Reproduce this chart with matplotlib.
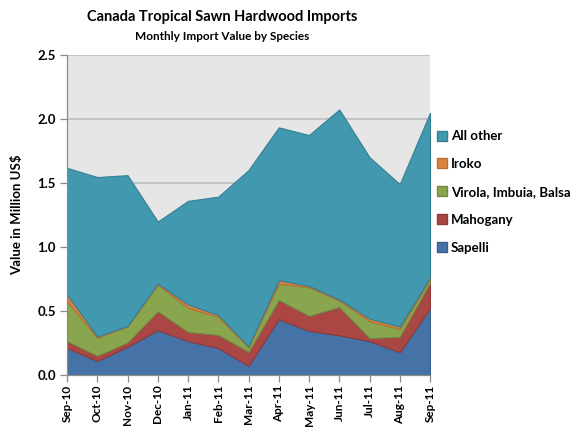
import matplotlib
matplotlib.use("Agg")
import matplotlib.pyplot as plt
from matplotlib.lines import Line2D
import numpy as np

months = ["Sep-10", "Oct-10", "Nov-10", "Dec-10", "Jan-11", "Feb-11", "Mar-11",
          "Apr-11", "May-11", "Jun-11", "Jul-11", "Aug-11", "Sep-11"]
sapelli = [0.21, 0.11, 0.22, 0.35, 0.265, 0.21, 0.072, 0.435, 0.345, 0.31, 0.265, 0.178, 0.52]
mahogany = [0.054, 0.04, 0.034, 0.147, 0.071, 0.103, 0.109, 0.15, 0.117, 0.22, 0.023, 0.12, 0.20]
virola = [0.313, 0.14, 0.126, 0.209, 0.189, 0.142, 0.034, 0.129, 0.223, 0.052, 0.132, 0.062, 0.03]
iroko = [0.052, 0.01, 0.003, 0.008, 0.026, 0.013, 0.008, 0.026, 0.01, 0.008, 0.02, 0.018, 0.01]
all_other = [0.988, 1.245, 1.177, 0.484, 0.808, 0.924, 1.377, 1.193, 1.178, 1.483, 1.26, 1.112, 1.287]
series_names = ["Sapelli", "Mahogany", "Virola, Imbuia, Balsa", "Iroko", "All other"]
yticks = [0.0, 0.5, 1.0, 1.5, 2.0, 2.5]

colors = ["#4572A7", "#AA4643", "#89A54E", "#DB843D", "#4198AF"]
edges = ["#3A5F8C", "#8E3A38", "#728A41", "#B86E33", "#367F92"]

plt.rcParams['font.family'] = ['Lato', 'DejaVu Sans']
fig = plt.figure(figsize=(5.74, 4.28), dpi=100)
ax = fig.add_axes([67/574, 53/428, 363/574, 320.3/428])
ax.set_facecolor("#E6E6E6")

x = np.arange(len(months))
data = [sapelli, mahogany, virola, iroko, all_other]
polys = ax.stackplot(x, *data, colors=colors, zorder=2)
for p, ec in zip(polys, edges):
    p.set_edgecolor(ec)
    p.set_linewidth(0.8)

ax.set_xlim(0, len(months) - 1)
ax.set_ylim(0, 2.5)
ax.set_yticks(yticks)
ax.set_yticklabels([f"{v:.1f}" for v in yticks], fontweight="bold", fontsize=9.5)
ax.set_xticks(x)
ax.set_xticklabels(months, rotation=90, fontweight="bold", fontsize=8.5)
ax.yaxis.grid(True, color="#BDBDBD", linewidth=1.2, zorder=1)
ax.set_axisbelow(True)
for s in ["top", "right"]:
    ax.spines[s].set_visible(False)
for s in ["left", "bottom"]:
    ax.spines[s].set_color("#8C8C8C")
    ax.spines[s].set_linewidth(0.9)
ax.tick_params(axis="both", direction="out", length=5, color="#8C8C8C", width=0.9, pad=3)
ax.tick_params(axis="x", pad=2)
ax.set_ylabel("Value in Million US$", fontweight="bold", fontsize=9.5, labelpad=10)

fig.text(222/574, 1 - 17/428, "Canada Tropical Sawn Hardwood Imports", ha="center", va="center",
         fontweight="bold", fontsize=10.5)
fig.text(222/574, 1 - 36/428, "Monthly Import Value by Species", ha="center", va="center",
         fontweight="bold", fontsize=8.5)

handles = [Line2D([], [], marker="s", linestyle="none", markersize=7,
                  markerfacecolor=c, markeredgecolor=e) for c, e in zip(colors, edges)]
leg = fig.legend(handles[::-1], series_names[::-1], loc="upper left",
                 bbox_to_anchor=(431/574, 1 - 125/428), frameon=False,
                 prop={"weight": "bold", "size": 9.5}, handlelength=0.8,
                 handletextpad=0.3, labelspacing=1.2, borderaxespad=0)

fig.savefig("out.png", dpi=100)
